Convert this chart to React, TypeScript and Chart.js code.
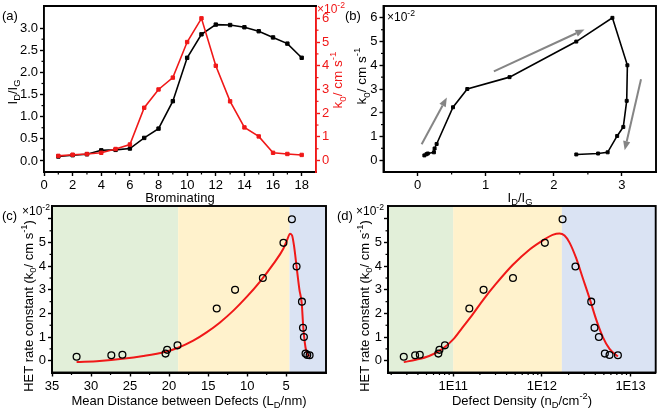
import React, { useEffect, useRef } from 'react';
import { Chart, registerables } from 'chart.js';
Chart.register(...registerables);

const FONT = "'Liberation Sans', Arial, Helvetica, sans-serif";
const RED = '#f01818';
const GRAY = '#858585';
const BAND_COLORS = ['#e2efd9', '#fff2cc', '#dae3f3'];

// ---------- (a) & (b)
const brominating = [1, 2, 3, 4, 5, 6, 7, 8, 9, 10, 11, 12, 13, 14, 15, 16, 17, 18];
const idIg = [0.1, 0.13, 0.15, 0.24, 0.25, 0.28, 0.52, 0.73, 1.35, 2.33, 2.86, 3.08, 3.07, 3.02, 2.93, 2.79, 2.65, 2.33];
const k0 = [0.2, 0.25, 0.28, 0.33, 0.49, 0.68, 2.23, 3.0, 3.5, 5.0, 6.0, 4.0, 2.5, 1.4, 1.02, 0.33, 0.28, 0.24];
const aXTicks = [0, 2, 4, 6, 8, 10, 12, 14, 16, 18];
const aYTicks = [0, 0.5, 1, 1.5, 2, 2.5, 3];
const aY2Ticks = [0, 1, 2, 3, 4, 5, 6];
const bXTicks = [0, 1, 2, 3];
const bYTicks = [0, 1, 2, 3, 4, 5, 6];
// trend arrows in (b): [x1, y1, x2, y2]
const bArrows = [
  [0.06, 0.67, 0.43, 2.64],
  [1.12, 3.74, 2.45, 5.51],
  [3.28, 3.41, 3.04, 0.42],
];

// ---------- (c)
const meanDistance = [31.85, 27.4, 25.98, 20.46, 20.25, 18.92, 13.9, 11.55, 7.99, 5.35, 4.27, 3.67, 2.98, 2.85, 2.73, 2.52, 2.3, 2.0];
const kMeasured = [0.17, 0.23, 0.25, 0.3, 0.46, 0.65, 2.21, 3.0, 3.5, 4.99, 5.99, 3.99, 2.5, 1.39, 1.0, 0.3, 0.24, 0.23];
const fitDistance = [31.85, 28.9, 25.98, 23.3, 20.46, 18.84, 16.91, 15.2, 13.48, 11.77, 10.06, 8.35, 6.64, 5.35, 4.84, 4.5, 4.24, 3.99, 3.64, 3.3, 3.0, 2.85, 2.73, 2.52, 2.3, 2.0];
const fitKC = [-0.06, -0.01, 0.08, 0.2, 0.38, 0.55, 0.85, 1.2, 1.62, 2.12, 2.7, 3.35, 4.1, 4.75, 5.15, 5.38, 5.3, 4.85, 3.9, 3.0, 2.4, 1.6, 1.1, 0.55, 0.3, 0.18];
const cXTicks = [35, 30, 25, 20, 15, 10, 5];
const kTicks = [0, 1, 2, 3, 4, 5, 6];
const cBandEdges = [35, 18.84, 4.57, -0.1];

// ---------- (d)
const defectDensity = [2.77e10, 3.72e10, 4.2e10, 6.8e10, 7.0e10, 8.06e10, 1.52e11, 2.2e11, 4.72e11, 1.08e12, 1.71e12, 2.39e12, 3.6e12, 3.92e12, 4.39e12, 5.13e12, 5.79e12, 7.2e12];
const fitDensity = [2.77e10, 3.79e10, 5.35e10, 7.57e10, 1.0e11, 1.27e11, 1.65e11, 2.2e11, 3.03e11, 4.68e11, 7.22e11, 1.08e12, 1.32e12, 1.58e12, 1.8e12, 2.05e12, 2.43e12, 2.89e12, 3.44e12, 4.09e12, 4.87e12, 5.79e12, 7.19e12];
const fitKD = [-0.06, 0.04, 0.2, 0.5, 0.9, 1.4, 1.95, 2.6, 3.25, 4.05, 4.7, 5.15, 5.33, 5.39, 5.3, 5.0, 4.35, 3.5, 2.65, 1.75, 1.0, 0.5, 0.18];
const dXTicks = [1e11, 1e12, 1e13];
const dBandEdges = [1.84e10, 1.0e11, 1.68e12, 1.92e13];

type Seg = { t: string; s?: 'sub' | 'sup' };
type Txt = { segs: Seg[]; x: number; y: number; size?: number; color?: string; rot?: boolean; align?: 'left' | 'center' };

function drawRich(ctx: CanvasRenderingContext2D, txt: Txt) {
  const size = txt.size ?? 13;
  const small = size * 0.72;
  ctx.save();
  ctx.translate(txt.x, txt.y);
  if (txt.rot) ctx.rotate(-Math.PI / 2);
  ctx.fillStyle = txt.color ?? '#000';
  ctx.textBaseline = 'alphabetic';
  ctx.textAlign = 'left';
  const widths = txt.segs.map((sg) => {
    ctx.font = `${sg.s ? small : size}px ${FONT}`;
    return ctx.measureText(sg.t).width;
  });
  const total = widths.reduce((a, b) => a + b, 0);
  let cx = txt.align === 'left' ? 0 : -total / 2;
  const base = size * 0.36;
  txt.segs.forEach((sg, i) => {
    ctx.font = `${sg.s ? small : size}px ${FONT}`;
    let dy = base;
    if (sg.s === 'sub') dy += size * 0.28;
    if (sg.s === 'sup') dy -= size * 0.42;
    ctx.fillText(sg.t, cx, dy);
    cx += widths[i];
  });
  ctx.restore();
}

function between(t: number[]) {
  const out: number[] = [];
  for (let i = 0; i < t.length - 1; i++) out.push((t[i] + t[i + 1]) / 2);
  return out;
}
function logMinors(lo: number, hi: number) {
  const out: number[] = [];
  for (let e = Math.floor(Math.log10(lo)); e <= Math.ceil(Math.log10(hi)); e++) {
    for (let m = 2; m <= 9; m++) {
      const v = m * Math.pow(10, e);
      if (v > lo && v < hi) out.push(v);
    }
  }
  return out;
}

type Minor = { axis: string; values: number[]; side: 'bottom' | 'left' | 'right'; color?: string };
type Decor = {
  frame: 'full' | 'top';
  bands?: { from: number; to: number; color: string }[];
  arrows?: number[][];
  minor?: Minor[];
  texts?: Txt[];
};

function makeDecor(o: Decor) {
  return {
    id: 'decor',
    beforeDraw(chart: any) {
      if (!o.bands) return;
      const { ctx, chartArea: a } = chart;
      const xs = chart.scales.x;
      ctx.save();
      ctx.beginPath();
      ctx.rect(a.left, a.top, a.right - a.left, a.bottom - a.top);
      ctx.clip();
      o.bands.forEach((b) => {
        const p1 = xs.getPixelForValue(b.from);
        const p2 = xs.getPixelForValue(b.to);
        ctx.fillStyle = b.color;
        ctx.fillRect(Math.min(p1, p2), a.top, Math.abs(p2 - p1), a.bottom - a.top);
      });
      ctx.restore();
    },
    afterDraw(chart: any) {
      const { ctx, chartArea: a } = chart;
      ctx.save();
      (o.minor || []).forEach((m) => {
        const sc = chart.scales[m.axis];
        ctx.strokeStyle = m.color || '#000';
        ctx.lineWidth = 1.2;
        m.values.forEach((v) => {
          const p = sc.getPixelForValue(v);
          ctx.beginPath();
          if (m.side === 'bottom') {
            ctx.moveTo(p, a.bottom);
            ctx.lineTo(p, a.bottom + 2.5);
          } else if (m.side === 'left') {
            ctx.moveTo(a.left, p);
            ctx.lineTo(a.left - 2.5, p);
          } else {
            ctx.moveTo(a.right, p);
            ctx.lineTo(a.right + 2.5, p);
          }
          ctx.stroke();
        });
      });
      ctx.strokeStyle = '#000';
      ctx.lineWidth = 1.9;
      if (o.frame === 'full') {
        ctx.strokeRect(a.left, a.top, a.right - a.left, a.bottom - a.top);
      } else {
        ctx.beginPath();
        ctx.moveTo(a.left - 0.9, a.top);
        ctx.lineTo(a.right + 0.9, a.top);
        ctx.stroke();
      }
      (o.arrows || []).forEach(([x1, y1, x2, y2]) => {
        const xs = chart.scales.x;
        const ys = chart.scales.y;
        const p1x = xs.getPixelForValue(x1);
        const p1y = ys.getPixelForValue(y1);
        const p2x = xs.getPixelForValue(x2);
        const p2y = ys.getPixelForValue(y2);
        const ang = Math.atan2(p2y - p1y, p2x - p1x);
        const hl = 9;
        const hw = 3.6;
        const bx = p2x - hl * Math.cos(ang);
        const by = p2y - hl * Math.sin(ang);
        ctx.strokeStyle = GRAY;
        ctx.fillStyle = GRAY;
        ctx.lineWidth = 2;
        ctx.beginPath();
        ctx.moveTo(p1x, p1y);
        ctx.lineTo(bx, by);
        ctx.stroke();
        ctx.beginPath();
        ctx.moveTo(p2x, p2y);
        ctx.lineTo(bx + hw * Math.sin(ang), by - hw * Math.cos(ang));
        ctx.lineTo(bx - hw * Math.sin(ang), by + hw * Math.cos(ang));
        ctx.closePath();
        ctx.fill();
      });
      (o.texts || []).forEach((t) => drawRich(ctx, t));
      ctx.restore();
    },
  };
}

type AxisOpts = {
  type?: string;
  min: number;
  max: number;
  ticks: number[];
  fmt: (v: number) => string;
  position: 'left' | 'right' | 'bottom';
  size: number;
  color?: string;
  reverse?: boolean;
};

function axis(o: AxisOpts) {
  const color = o.color || '#000';
  return {
    type: o.type || 'linear',
    min: o.min,
    max: o.max,
    reverse: !!o.reverse,
    position: o.position,
    afterBuildTicks: (s: any) => {
      s.ticks = o.ticks.map((v) => ({ value: v }));
    },
    afterFit: (s: any) => {
      if (o.position === 'bottom') s.height = o.size;
      else s.width = o.size;
      s.paddingTop = 0;
      s.paddingBottom = 0;
      s.paddingLeft = 0;
      s.paddingRight = 0;
    },
    grid: { display: true, drawOnChartArea: false, drawTicks: true, tickLength: 4, tickWidth: 1.4, tickColor: color },
    border: { display: true, color, width: 1.9 },
    ticks: {
      color,
      font: { family: FONT, size: 13 },
      padding: 2,
      maxRotation: 0,
      autoSkip: false,
      callback: (v: any) => o.fmt(Number(v)),
    },
  };
}

const kUnit: Seg[] = [{ t: 'k' }, { t: '0', s: 'sub' }, { t: '/ cm s' }, { t: '-1', s: 'sup' }];
const x10 = (x: number, y: number, color = '#000'): Txt => ({
  segs: [{ t: '×10' }, { t: '-2', s: 'sup' }],
  x,
  y,
  size: 12,
  color,
  align: 'left',
});
const idigSegs: Seg[] = [{ t: 'I' }, { t: 'D', s: 'sub' }, { t: '/I' }, { t: 'G', s: 'sub' }];

const baseOpts = (padding: any) => ({
  responsive: false,
  maintainAspectRatio: false,
  animation: false,
  devicePixelRatio: 1,
  events: [],
  layout: { padding },
  plugins: { legend: { display: false }, tooltip: { enabled: false } },
});

function configs(): any[] {
  const sq = (color: string, r: number) => ({
    borderColor: color,
    backgroundColor: color,
    pointBackgroundColor: color,
    pointBorderColor: color,
    pointStyle: 'rect',
    pointRadius: r,
    pointBorderWidth: 1,
    borderWidth: 1.6,
    tension: 0,
  });

  const a = {
    type: 'line',
    data: {
      datasets: [
        { ...sq(RED, 2.4), yAxisID: 'y2', data: brominating.map((b, i) => ({ x: b, y: k0[i] })) },
        { ...sq('#000', 2.4), yAxisID: 'y', data: brominating.map((b, i) => ({ x: b, y: idIg[i] })) },
      ],
    },
    options: {
      ...baseOpts({ left: 4, top: 6, right: 325, bottom: 214 }),
      scales: {
        x: axis({ min: 0, max: 19, ticks: aXTicks, fmt: (v) => String(v), position: 'bottom', size: 24 }),
        y: axis({ min: -0.25, max: 3.5, ticks: aYTicks, fmt: (v) => v.toFixed(1), position: 'left', size: 40 }),
        y2: axis({ min: -0.48, max: 6.52, ticks: aY2Ticks, fmt: (v) => String(v), position: 'right', size: 20, color: RED }),
      },
    },
    plugins: [
      makeDecor({
        frame: 'top',
        minor: [
          { axis: 'x', values: between(aXTicks), side: 'bottom' },
          { axis: 'y', values: between(aYTicks), side: 'left' },
          { axis: 'y2', values: between(aY2Ticks), side: 'right', color: RED },
        ],
        texts: [
          { segs: [{ t: '(a)' }], x: 2, y: 15, align: 'left' },
          { segs: idigSegs, x: 12, y: 92, rot: true },
          { segs: [{ t: 'Brominating' }], x: 180, y: 197 },
          x10(317, 9, RED),
          { segs: kUnit, x: 337, y: 80, rot: true, color: RED, size: 13.5 },
        ],
      }),
    ],
  };

  const b = {
    type: 'line',
    data: {
      datasets: [{ ...sq('#000', 2.1), data: idIg.map((x, i) => ({ x, y: k0[i] })) }],
    },
    options: {
      ...baseOpts({ left: 353.5, top: 6, right: 5, bottom: 214 }),
      scales: {
        x: axis({ min: -0.5, max: 3.5, ticks: bXTicks, fmt: (v) => String(v), position: 'bottom', size: 24 }),
        y: axis({ min: -0.5, max: 6.5, ticks: bYTicks, fmt: (v) => String(v), position: 'left', size: 30 }),
      },
    },
    plugins: [
      makeDecor({
        frame: 'full',
        arrows: bArrows,
        minor: [
          { axis: 'x', values: between(bXTicks), side: 'bottom' },
          { axis: 'y', values: between(bYTicks), side: 'left' },
        ],
        texts: [
          { segs: [{ t: '(b)' }], x: 345, y: 15, align: 'left' },
          x10(387, 17),
          { segs: kUnit, x: 361, y: 76, rot: true, size: 13.5 },
          { segs: idigSegs, x: 520, y: 197 },
        ],
      }),
    ],
  };

  const kFmt = (v: number) => (v === 6 ? '' : String(v));
  const circles = {
    showLine: false,
    pointStyle: 'circle',
    pointRadius: 3.4,
    pointBorderWidth: 1.3,
    pointBorderColor: '#000',
    pointBackgroundColor: 'rgba(0,0,0,0)',
    borderColor: '#000',
    order: 0,
  };
  const fitLine = {
    borderColor: RED,
    borderWidth: 2,
    pointRadius: 0,
    cubicInterpolationMode: 'monotone',
    order: 1,
  };
  const hetTitle: Seg[] = [{ t: 'HET rate constant (k' }, { t: '0', s: 'sub' }, { t: '/ cm s' }, { t: '-1', s: 'sup' }, { t: ')' }];

  const c = {
    type: 'line',
    data: {
      datasets: [
        { ...circles, data: meanDistance.map((x, i) => ({ x, y: kMeasured[i] })) },
        { ...fitLine, data: fitDistance.map((x, i) => ({ x, y: fitKC[i] })) },
      ],
    },
    options: {
      ...baseOpts({ left: 22, top: 206, right: 335, bottom: 13.5 }),
      scales: {
        x: axis({ min: -0.1, max: 35, reverse: true, ticks: cXTicks, fmt: (v) => String(v), position: 'bottom', size: 24 }),
        y: axis({ min: -0.5, max: 6.55, ticks: kTicks, fmt: kFmt, position: 'left', size: 30 }),
      },
    },
    plugins: [
      makeDecor({
        frame: 'full',
        bands: BAND_COLORS.map((color, i) => ({ from: cBandEdges[i], to: cBandEdges[i + 1], color })),
        minor: [
          { axis: 'x', values: between(cXTicks), side: 'bottom' },
          { axis: 'y', values: between(kTicks), side: 'left' },
        ],
        texts: [
          { segs: [{ t: '(c)' }], x: 2, y: 215, align: 'left' },
          x10(22, 211),
          { segs: hetTitle, x: 28, y: 306, rot: true },
          { segs: [{ t: 'Mean Distance between Defects (L' }, { t: 'D', s: 'sub' }, { t: '/nm)' }], x: 189, y: 400 },
        ],
      }),
    ],
  };

  const d = {
    type: 'line',
    data: {
      datasets: [
        { ...circles, data: defectDensity.map((x, i) => ({ x, y: kMeasured[i] })) },
        { ...fitLine, data: fitDensity.map((x, i) => ({ x, y: fitKD[i] })) },
      ],
    },
    options: {
      ...baseOpts({ left: 358, top: 206, right: 5, bottom: 13.5 }),
      scales: {
        x: axis({
          type: 'logarithmic',
          min: dBandEdges[0],
          max: dBandEdges[3],
          ticks: dXTicks,
          fmt: (v) => '1E' + Math.round(Math.log10(v)),
          position: 'bottom',
          size: 24,
        }),
        y: axis({ min: -0.5, max: 6.55, ticks: kTicks, fmt: kFmt, position: 'left', size: 30 }),
      },
    },
    plugins: [
      makeDecor({
        frame: 'full',
        bands: BAND_COLORS.map((color, i) => ({ from: dBandEdges[i], to: dBandEdges[i + 1], color })),
        minor: [
          { axis: 'x', values: logMinors(dBandEdges[0], dBandEdges[3]), side: 'bottom' },
          { axis: 'y', values: between(kTicks), side: 'left' },
        ],
        texts: [
          { segs: [{ t: '(d)' }], x: 337, y: 215, align: 'left' },
          x10(356, 211),
          { segs: hetTitle, x: 364, y: 306, rot: true },
          { segs: [{ t: 'Defect Density (n' }, { t: 'D', s: 'sub' }, { t: '/cm' }, { t: '-2', s: 'sup' }, { t: ')' }], x: 522, y: 400 },
        ],
      }),
    ],
  };

  return [a, b, c, d];
}

export default function App() {
  const r0 = useRef<HTMLCanvasElement>(null);
  const r1 = useRef<HTMLCanvasElement>(null);
  const r2 = useRef<HTMLCanvasElement>(null);
  const r3 = useRef<HTMLCanvasElement>(null);
  const refs = [r0, r1, r2, r3];

  useEffect(() => {
    const cfgs = configs();
    const charts = cfgs.map((cfg, i) => new Chart(refs[i].current as HTMLCanvasElement, cfg));
    return () => charts.forEach((ch) => ch.destroy());
  }, []);

  return (
    <div style={{ position: 'absolute', left: 0, top: 0, width: 661, height: 410, background: '#fff', overflow: 'hidden' }}>
      {refs.map((r, i) => (
        <canvas
          key={i}
          ref={r}
          width={661}
          height={410}
          style={{ position: 'absolute', left: 0, top: 0, width: 661, height: 410 }}
        />
      ))}
    </div>
  );
}
